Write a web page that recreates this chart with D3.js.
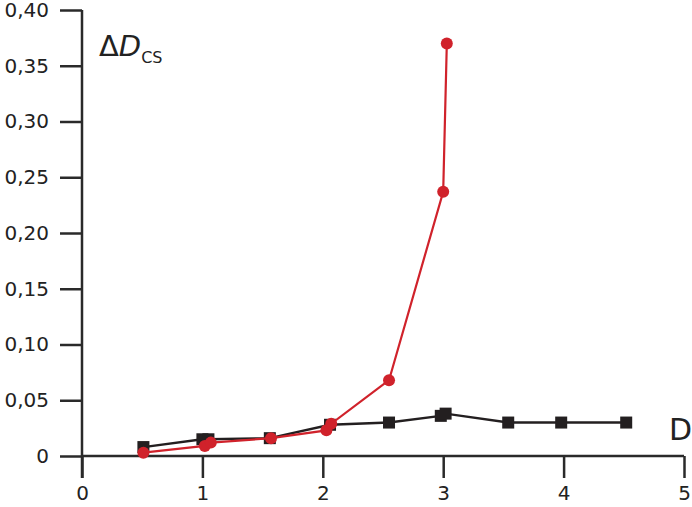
<!DOCTYPE html>
<html><head><meta charset="utf-8">
<script src="https://cdn.jsdelivr.net/npm/d3@7/dist/d3.min.js"></script>
<style>body{margin:0;background:#fff}svg{display:block}</style>
</head><body>
<svg id="c" width="692" height="507"></svg>
<script>
const xTicks = [0, 1, 2, 3, 4, 5];
const yTicks = [0, 0.05, 0.10, 0.15, 0.20, 0.25, 0.30, 0.35, 0.40];
const yTickLabels = ["0", "0,05", "0,10", "0,15", "0,20", "0,25", "0,30", "0,35", "0,40"];
const blackX = [0.51, 1.0, 1.05, 1.56, 2.06, 2.55, 2.98, 3.02, 3.54, 3.98, 4.52];
const blackY = [0.008, 0.015, 0.015, 0.016, 0.028, 0.030, 0.036, 0.038, 0.030, 0.030, 0.030];
const redX = [0.51, 1.02, 1.07, 1.57, 2.03, 2.07, 2.55, 3.0, 3.03];
const redY = [0.003, 0.009, 0.012, 0.016, 0.023, 0.029, 0.068, 0.237, 0.370];

const svg = d3.select("#c");
const x = d3.scaleLinear().domain([0, 5]).range([82, 684]);
const y = d3.scaleLinear().domain([0, 0.4]).range([456, 10]);
const axisColor = "#2a2a2a";
const font = "DejaVu Sans, sans-serif";

// y axis
const ya = svg.append("g").attr("transform", "translate(82,0)")
  .call(d3.axisLeft(y).tickValues(yTicks).tickSize(22).tickPadding(11)
    .tickFormat((d, i) => yTickLabels[i]));
ya.select(".domain").attr("d", `M0,${y(0.4)}V478`);
// x axis
const xa = svg.append("g").attr("transform", "translate(0,456)")
  .call(d3.axisBottom(x).tickValues(xTicks).tickSize(22).tickPadding(8).tickFormat(d3.format("d")));
xa.select(".domain").attr("d", `M${x(0)},0H${x(5)}`);
[ya, xa].forEach(g => {
  g.selectAll(".domain,line").attr("stroke", axisColor).attr("stroke-width", 2.5);
  g.selectAll("text").attr("fill", "#222").style("font-family", font).style("font-size", "20px");
});

// lines
const line = d3.line().x(d => x(d[0])).y(d => y(d[1]));
const blackPts = blackX.map((v, i) => [v, blackY[i]]);
const redPts = redX.map((v, i) => [v, redY[i]]);

svg.append("path").datum(blackPts).attr("d", line).attr("fill", "none")
  .attr("stroke", "#231f20").attr("stroke-width", 2.4);
svg.selectAll("rect.b").data(blackPts).enter().append("rect").attr("class", "b")
  .attr("x", d => x(d[0]) - 6).attr("y", d => y(d[1]) - 6)
  .attr("width", 12).attr("height", 12).attr("fill", "#231f20");

svg.append("path").datum(redPts).attr("d", line).attr("fill", "none")
  .attr("stroke", "#d0222b").attr("stroke-width", 2.2);
svg.selectAll("circle.r").data(redPts).enter().append("circle").attr("class", "r")
  .attr("cx", d => x(d[0])).attr("cy", d => y(d[1])).attr("r", 6).attr("fill", "#d0222b");

// labels
const lab = svg.append("text").attr("x", 99).attr("y", 56).attr("fill", "#222")
  .style("font-family", font).style("font-size", "29px");
lab.append("tspan").text("Δ");
lab.append("tspan").attr("font-style", "italic").text("D");
lab.append("tspan").attr("dy", 7).style("font-size", "16px").text("CS");

svg.append("text").attr("x", 692).attr("y", 440).attr("text-anchor", "end").attr("fill", "#222")
  .style("font-family", font).style("font-size", "30px").text("D");
</script>
</body></html>
